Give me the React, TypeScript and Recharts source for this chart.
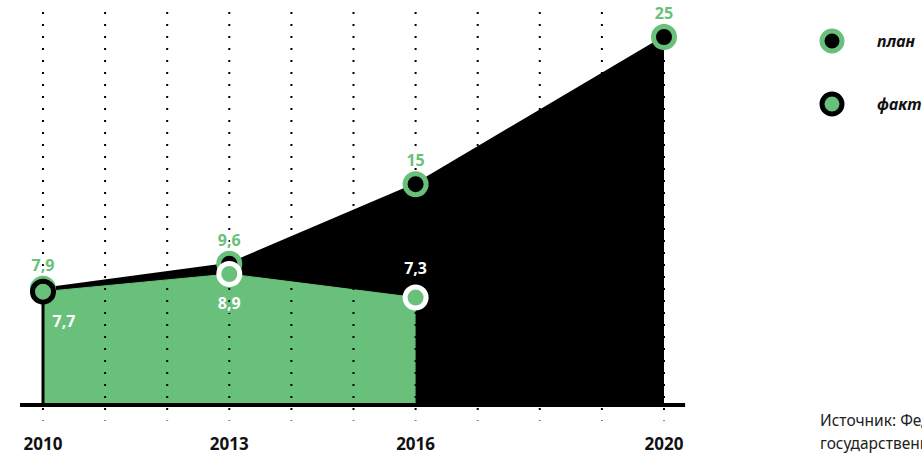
import React from 'react';
import {
  Area,
  ComposedChart,
  LabelList,
  ReferenceLine,
  XAxis,
  YAxis,
} from 'recharts';

const years = [2010, 2013, 2016, 2020];
const plan = [7.9, 9.6, 15, 25];
const fact = [7.7, 8.9, 7.3, null];
const gridYears = [2010, 2011, 2012, 2013, 2014, 2015, 2016, 2017, 2018, 2019, 2020];
const planLabels = ['7,9', '9,6', '15', '25'];
const factLabels = ['7,7', '8,9', '7,3', ''];

const data = years.map((year, i) => ({ year, plan: plan[i], fact: fact[i] }));

const GREEN = '#68c07a';
const FONT = '"Noto Sans", "Open Sans", sans-serif';
const W = 922;
const H = 454;
const MARGIN = { top: 12, right: 258, left: 43, bottom: 0 };
const Y_DOMAIN: [number, number] = [0, 26.7];

const PlanDot = (props: any) => {
  const { cx, cy, index } = props;
  if (cy == null) return <g key={`pd-${index}`} />;
  return <circle key={`pd-${index}`} cx={cx} cy={cy} r={10.5} fill="#000" stroke={GREEN} strokeWidth={5} />;
};

const FactDot = (props: any) => {
  const { cx, cy, index } = props;
  if (cy == null || props.payload?.fact == null) return <g key={`fd-${index}`} />;
  return (
    <circle
      key={`fd-${index}`}
      cx={cx}
      cy={cy}
      r={10.5}
      fill={GREEN}
      stroke={index === 0 ? '#000' : '#fff'}
      strokeWidth={5}
    />
  );
};

// white halo hides the dotted year lines behind the numbers
const PlanLabel = (props: any) => {
  const { x, y, index } = props;
  return (
    <text
      x={x}
      y={y - 18}
      textAnchor="middle"
      fill={GREEN}
      stroke="#fff"
      strokeWidth={4}
      paintOrder="stroke"
      fontSize={16}
      fontWeight={700}
      fontFamily={FONT}
    >
      {planLabels[index]}
    </text>
  );
};

const FactLabel = (props: any) => {
  const { x, y, index } = props;
  if (y == null || !factLabels[index]) return null;
  const dx = index === 0 ? 21 : 0;
  const dy = index === 2 ? -24 : 35;
  return (
    <text
      x={x + dx}
      y={y + dy}
      textAnchor="middle"
      fill="#fff"
      stroke={index === 2 ? '#000' : GREEN}
      strokeWidth={4}
      paintOrder="stroke"
      fontSize={16}
      fontWeight={700}
      fontFamily={FONT}
    >
      {factLabels[index]}
    </text>
  );
};

const YearTick = (props: any) => {
  const { x, y, payload } = props;
  return (
    <text x={x} y={y + 37} textAnchor="middle" fill="#111" fontSize={17} fontWeight={700} fontFamily={FONT}>
      {payload.value}
    </text>
  );
};

const LegendDot = ({ fill, stroke }: { fill: string; stroke: string }) => (
  <svg width={28} height={28} style={{ display: 'block' }}>
    <circle cx={14} cy={14} r={10} fill={fill} stroke={stroke} strokeWidth={5} />
  </svg>
);

export default function App() {
  return (
    <div
      style={{
        position: 'absolute',
        left: 0,
        top: 0,
        width: W,
        height: H,
        overflow: 'hidden',
        background: '#fff',
        fontFamily: FONT,
      }}
    >
      {/* areas, grid dots and baseline */}
      <div style={{ position: 'absolute', left: 0, top: 0 }}>
        <ComposedChart width={W} height={H} data={data} margin={MARGIN}>
          <XAxis
            dataKey="year"
            type="number"
            domain={[2010, 2020]}
            ticks={years}
            interval={0}
            axisLine={false}
            tickLine={false}
            height={49}
            tick={<YearTick />}
          />
          <YAxis hide domain={Y_DOMAIN} allowDataOverflow />
          <Area
            type="linear"
            dataKey="plan"
            fill="#000"
            fillOpacity={1}
            stroke="#000"
            strokeWidth={2}
            isAnimationActive={false}
            dot={false}
            activeDot={false}
          />
          <Area
            type="linear"
            dataKey="fact"
            fill={GREEN}
            fillOpacity={1}
            stroke={GREEN}
            strokeWidth={1}
            isAnimationActive={false}
            dot={false}
            activeDot={false}
          />
          {gridYears.map((yr) => (
            <ReferenceLine
              key={yr}
              segment={[
                { x: yr, y: 26.7 },
                { x: yr, y: -1.05 },
              ]}
              stroke="#000"
              strokeWidth={2}
              strokeDasharray="2 10"
              ifOverflow="visible"
            />
          ))}
          <ReferenceLine
            segment={[
              { x: 2010, y: 0 },
              { x: 2010, y: plan[0] },
            ]}
            stroke="#000"
            strokeWidth={3}
            ifOverflow="visible"
          />
          <ReferenceLine
            segment={[
              { x: 2009.63, y: 0 },
              { x: 2020.34, y: 0 },
            ]}
            stroke="#000"
            strokeWidth={4}
            ifOverflow="visible"
          />
        </ComposedChart>
      </div>

      {/* markers and value labels on top */}
      <div style={{ position: 'absolute', left: 0, top: 0 }}>
        <ComposedChart width={W} height={H} data={data} margin={MARGIN}>
          <XAxis
            dataKey="year"
            type="number"
            domain={[2010, 2020]}
            ticks={years}
            axisLine={false}
            tickLine={false}
            tick={false}
            height={49}
          />
          <YAxis hide domain={Y_DOMAIN} allowDataOverflow />
          <Area
            type="linear"
            dataKey="plan"
            fill="none"
            stroke="none"
            isAnimationActive={false}
            dot={PlanDot}
            activeDot={false}
          >
            <LabelList dataKey="plan" content={PlanLabel} />
          </Area>
          <Area
            type="linear"
            dataKey="fact"
            fill="none"
            stroke="none"
            isAnimationActive={false}
            dot={FactDot}
            activeDot={false}
          >
            <LabelList dataKey="fact" content={FactLabel} />
          </Area>
        </ComposedChart>
      </div>

      <div style={{ position: 'absolute', left: 818, top: 27, display: 'flex', alignItems: 'center' }}>
        <LegendDot fill="#000" stroke={GREEN} />
        <span style={{ marginLeft: 31, fontSize: 16, fontWeight: 700, fontStyle: 'italic', color: '#111' }}>план</span>
      </div>
      <div style={{ position: 'absolute', left: 818, top: 90, display: 'flex', alignItems: 'center' }}>
        <LegendDot fill={GREEN} stroke="#000" />
        <span style={{ marginLeft: 31, fontSize: 16, fontWeight: 700, fontStyle: 'italic', color: '#111' }}>факт</span>
      </div>

      <div
        style={{
          position: 'absolute',
          left: 820,
          top: 409,
          width: 260,
          fontSize: 15.5,
          lineHeight: '23px',
          color: '#222',
        }}
      >
        Источник: Федеральная служба государственной статистики
      </div>
    </div>
  );
}
